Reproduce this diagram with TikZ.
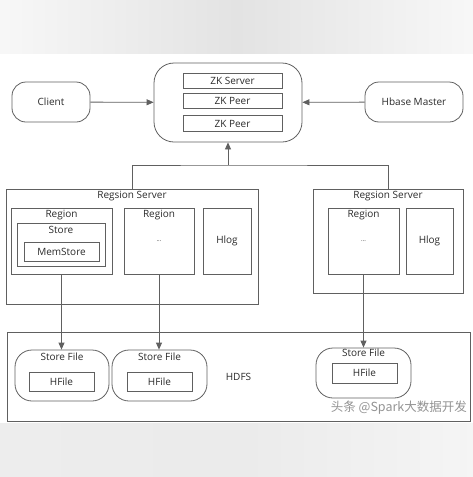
\documentclass[tikz,border=0pt]{standalone}
\usepackage{fontspec}
\setmainfont{Open Sans}
\newfontfamily\cjk{Noto Sans CJK SC}
\usetikzlibrary{shapes,arrows.meta,positioning}
\definecolor{linegray}{HTML}{606060}
\definecolor{txtgray}{HTML}{2A2A2A}
\tikzstyle{box} = [rectangle, draw=linegray, line width=0.8pt, text=txtgray, inner sep=0pt]
\tikzstyle{pill} = [box, rounded corners=15pt]
\tikzstyle{lbl} = [text=txtgray, inner sep=1pt]
\tikzstyle{wire} = [draw=linegray, line width=0.8pt]
\tikzstyle{line} = [wire, -{Triangle[length=7pt,width=6pt]}]

\begin{document}
\begin{tikzpicture}[x=1pt,y=-1pt,font=\fontsize{10}{12}\selectfont]
	\useasboundingbox (0,0) rectangle (473,477);
	% grey bands
	\shade[left color=gray!6, right color=gray!6, middle color=gray!22] (0,0) rectangle (473,53);
	\shade[left color=gray!14, right color=gray!8, middle color=gray!16] (0,423) rectangle (473,477);

	% zookeeper
	\node[pill, rounded corners=20pt, minimum width=148pt, minimum height=79pt] (zk) at (228,102.5) {};
	\node[box, minimum width=99pt, minimum height=15pt] (zkserver) at (232.5,80.5) {ZK Server};
	\node[box, minimum width=99pt, minimum height=15pt, below=5pt of zkserver] (zkpeera) {ZK Peer};
	\node[box, minimum width=99pt, minimum height=16pt, below=6pt of zkpeera] (zkpeerb) {ZK Peer};

	\node[pill, rounded corners=14pt, minimum width=78pt, minimum height=40pt] (client) at (51,102) {Client};
	\node[pill, rounded corners=14pt, minimum width=98pt, minimum height=40pt] (hmaster) at (414,102) {Hbase Master};

	\path[line] (client) -- (zk);
	\path[line] (hmaster) -- (zk);

	% region servers
	\node[box, minimum width=252pt, minimum height=115pt] (rsa) at (132,246.5) {};
	\node[lbl, below=1pt of rsa.north] (rsalbl) {Regsion Server};
	\node[box, minimum width=101pt, minimum height=66pt] (rega) at (61.5,241) {};
	\node[lbl, below=1pt of rega.north] (regalbl) {Region};
	\node[box, minimum width=88pt, minimum height=43pt] (store) at (61,244.5) {};
	\node[lbl, below=2pt of store.north] (storelbl) {Store};
	\node[box, minimum width=75pt, minimum height=19pt] (memstore) at (61.5,251.5) {MemStore};
	\node[box, minimum width=70pt, minimum height=66pt, font=\fontsize{6}{7}\selectfont] (regb) at (159,241) {...};
	\node[lbl, below=1pt of regb.north] (regblbl) {Region};
	\node[box, minimum width=48pt, minimum height=66pt] (hloga) at (227,241) {Hlog};

	\node[box, minimum width=150pt, minimum height=104pt] (rsb) at (388,241) {};
	\node[lbl, below=1pt of rsb.north] (rsblbl) {Regsion Server};
	\node[box, minimum width=71pt, minimum height=66pt, font=\fontsize{6}{7}\selectfont] (regc) at (363.5,241) {...};
	\node[lbl, below=1pt of regc.north] (regclbl) {Region};
	\node[box, minimum width=47pt, minimum height=66pt] (hlogb) at (429.5,241) {Hlog};

	% bus up to zookeeper
	\coordinate (bus) at (228,165);
	\draw[wire] (rsa.north) |- (bus) -| (rsb.north);
	\path[line] (bus) -- (zk.south);

	% hdfs
	\node[box, minimum width=463pt, minimum height=89pt] (hdfs) at (238.5,376.5) {HDFS};
	\node[pill, rounded corners=17pt, minimum width=94pt, minimum height=51pt] (sfa) at (62,375.5) {};
	\node[lbl, below=2pt of sfa.north] (sfalbl) {Store File};
	\node[box, minimum width=65pt, minimum height=19pt] (hfa) at (61.5,381.5) {HFile};
	\node[pill, rounded corners=17pt, minimum width=95pt, minimum height=51pt] (sfb) at (159.5,375.5) {};
	\node[lbl, below=2pt of sfb.north] (sfblbl) {Store File};
	\node[box, minimum width=65pt, minimum height=19pt] (hfb) at (159.5,381.5) {HFile};
	\node[pill, rounded corners=17pt, minimum width=95pt, minimum height=50pt] (sfc) at (363.5,373) {};
	\node[lbl, below=0.5pt of sfc.north] (sfclbl) {Store File};
	\node[box, minimum width=65pt, minimum height=20pt] (hfc) at (364.5,373) {HFile};

	\path[line] (rega.south) -- (rega.south |- sfa.north);
	\path[line] (regb.south) -- (regb.south |- sfb.north);
	\path[line] (regc.south) -- (regc.south |- sfc.north);

	\node[text=gray!85, font=\cjk\fontsize{12.5}{14}\selectfont, anchor=east, inner sep=0pt] (mark) at (467,408) {头条 @Spark大数据开发};
\end{tikzpicture}
\end{document}
